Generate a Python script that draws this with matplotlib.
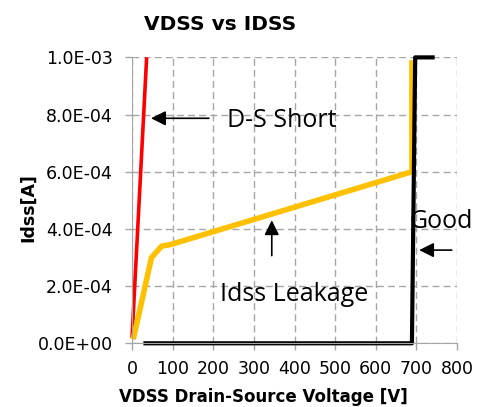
import matplotlib.pyplot as plt
from matplotlib.ticker import FormatStrFormatter

# curves (drain-source voltage in V, leakage current in A)
short_v = [0, 36]
short_i = [2.0e-5, 1.0e-3]
leak_v = [3, 48, 73, 94, 689, 689]
leak_i = [1.4e-5, 3.0e-4, 3.4e-4, 3.45e-4, 6.0e-4, 9.9e-4]
good_v = [28, 689, 697, 745]
good_i = [0, 0, 1.0e-3, 1.0e-3]

x_ticks = list(range(0, 900, 100))
y_ticks = [0, 2e-4, 4e-4, 6e-4, 8e-4, 1e-3]

fig = plt.figure(figsize=(4.89, 4.07), dpi=100)
ax = fig.add_axes([0.27, 0.1565, 0.6646, 0.7025])

ax.plot(short_v, short_i, color='#FF0000', lw=2.6, clip_on=False, solid_capstyle='butt')
ax.plot(leak_v, leak_i, color='#FFC000', lw=4, clip_on=False, solid_capstyle='butt')
ax.plot(good_v, good_i, color='black', lw=3, clip_on=False, solid_capstyle='butt')

ax.set_xlim(0, 800)
ax.set_ylim(0, 1e-3)
ax.set_xticks(x_ticks)
ax.set_yticks(y_ticks)
ax.yaxis.set_major_formatter(FormatStrFormatter('%.1E'))
ax.grid(True, color='#A6A6A6', ls=(0, (5, 3)), lw=1)
ax.set_axisbelow(True)
for s in ['top', 'right']:
    ax.spines[s].set_visible(False)
ax.spines['left'].set_color('#A6A6A6')
ax.spines['bottom'].set_color('#A6A6A6')
ax.tick_params(colors='#A6A6A6', labelcolor='black', labelsize=12.5, length=5, width=1)
ax.tick_params(axis='x', pad=7)
ax.tick_params(axis='y', pad=9)

fig.text(0.538, 0.025, 'VDSS Drain-Source Voltage [V]', fontsize=12, fontweight='bold',
         ha='center', va='center')
fig.text(0.057, 0.49, 'Idss[A]', fontsize=12.5, fontweight='bold', rotation=90,
         ha='center', va='center')
fig.text(0.45, 0.94, 'VDSS vs IDSS', fontsize=14.5, fontweight='bold', ha='center', va='center')

arrow = dict(arrowstyle='-|>', color='black', lw=1.2, mutation_scale=22)
ax.annotate('', xy=(40, 7.87e-4), xytext=(196, 7.87e-4), arrowprops=arrow)
ax.annotate('', xy=(344, 4.4e-4), xytext=(344, 2.97e-4), arrowprops=arrow)
ax.annotate('', xy=(700, 3.26e-4), xytext=(794, 3.26e-4), arrowprops=arrow, annotation_clip=False)

txt = dict(fontsize=18, family='Open Sans', va='center')
ax.text(234, 7.8e-4, 'D-S Short', ha='left', **txt)
ax.text(398, 1.69e-4, 'Idss Leakage', ha='center', **txt)
ax.text(682, 4.25e-4, 'Good', ha='left', clip_on=False, **txt)

fig.savefig('out.png', dpi=100)
